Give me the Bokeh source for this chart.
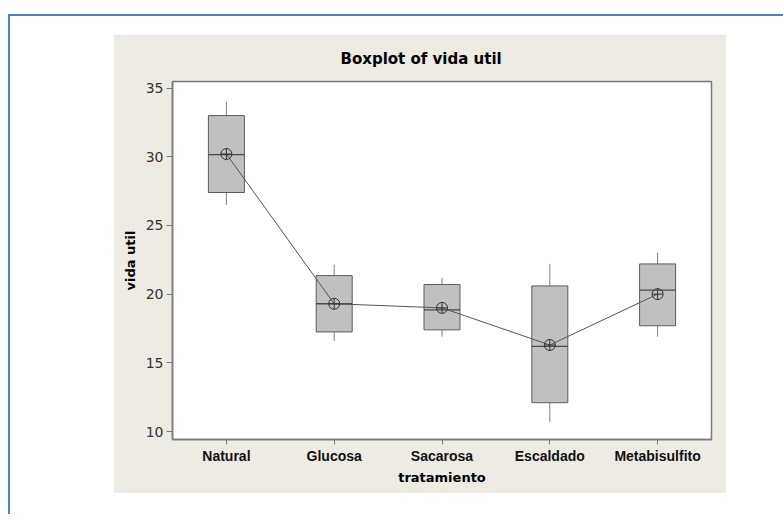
from bokeh.plotting import figure
from bokeh.models import Range1d, FixedTicker, ColumnDataSource
from bokeh.transform import dodge
from bokeh.layouts import column
from bokeh.embed import file_html
from bokeh.resources import INLINE

# ---- data ----
categories = ["Natural", "Glucosa", "Sacarosa", "Escaldado", "Metabisulfito"]
whisker_low = [26.5, 16.6, 16.9, 10.7, 16.9]
q1 = [27.4, 17.25, 17.4, 12.1, 17.7]
median = [30.15, 19.3, 18.85, 16.2, 20.3]
q3 = [33.0, 21.35, 20.7, 20.6, 22.2]
whisker_high = [34.0, 22.15, 21.2, 22.2, 23.0]
means = [30.2, 19.3, 19.0, 16.3, 20.0]
y_ticks = [10, 15, 20, 25, 30, 35]

src = ColumnDataSource(dict(cat=categories, lo=whisker_low, q1=q1, med=median,
                            q3=q3, hi=whisker_high, mean=means))

BEIGE = "#EEEBE3"
p = figure(x_range=categories, y_range=Range1d(9.42, 35.48),
           width=613, height=459, output_backend="svg", toolbar_location=None,
           min_border_left=59, min_border_right=15, min_border_top=47, min_border_bottom=54,
           background_fill_color="white", border_fill_color=BEIGE,
           title="Boxplot of vida util")
p.margin = (18, 0, 0, 103)

p.title.text_font = "DejaVu Sans"
p.title.text_font_size = "15px"
p.title.text_font_style = "bold"
p.title.text_color = "black"
p.title.align = "left"
p.title.offset = 168
p.title.standoff = 27

p.outline_line_color = "#7a7a7a"
p.outline_line_width = 1.5
p.xgrid.visible = False
p.ygrid.visible = False

box_w = 0.334
# whiskers
p.segment(x0="cat", y0="q3", x1="cat", y1="hi", source=src, line_color="#808080", line_width=1)
p.segment(x0="cat", y0="q1", x1="cat", y1="lo", source=src, line_color="#808080", line_width=1)
# boxes
p.vbar(x="cat", bottom="q1", top="q3", width=box_w, source=src,
       fill_color="#C0C0C0", line_color="#5c5c5c", line_width=1)
# medians
p.segment(x0=dodge("cat", -box_w / 2, range=p.x_range), y0="med",
          x1=dodge("cat", box_w / 2, range=p.x_range), y1="med",
          source=src, line_color="#4a4a4a", line_width=1.3)
# mean connect line and symbols
p.line(x="cat", y="mean", source=src, line_color="#555555", line_width=1)
p.scatter(x="cat", y="mean", source=src, marker="circle_cross", size=11,
          fill_alpha=0, line_color="#333333", line_width=1)

# y axis
ya = p.yaxis[0]
ya.ticker = FixedTicker(ticks=y_ticks)
ya.axis_label = "vida util"
ya.axis_label_text_font = "DejaVu Sans"
ya.axis_label_text_font_size = "13px"
ya.axis_label_text_font_style = "bold"
ya.axis_label_text_color = "black"
ya.axis_label_standoff = 5
ya.major_label_text_font = "DejaVu Sans"
ya.major_label_text_font_size = "14px"
ya.major_label_text_color = "#333333"
ya.major_label_standoff = 3
ya.major_tick_out = 6
ya.major_tick_in = 0
ya.minor_tick_out = 0
ya.minor_tick_in = 0
ya.major_tick_line_color = "#7a7a7a"
ya.axis_line_color = "#7a7a7a"
ya.axis_line_width = 1.5

# x axis
xa = p.xaxis[0]
xa.axis_label = "tratamiento"
xa.axis_label_text_font = "DejaVu Sans"
xa.axis_label_text_font_size = "13px"
xa.axis_label_text_font_style = "bold"
xa.axis_label_text_color = "black"
xa.axis_label_standoff = 3
xa.major_label_text_font = "Liberation Sans"
xa.major_label_text_font_size = "14px"
xa.major_label_text_font_style = "bold"
xa.major_label_text_color = "#111111"
xa.major_label_standoff = 3
xa.major_tick_out = 5
xa.major_tick_in = 0
xa.major_tick_line_color = "#7a7a7a"
xa.axis_line_color = "#7a7a7a"
xa.axis_line_width = 1.5

layout = column(p, width=780, height=500, margin=(14, 0, 0, 8),
                styles={"border-top": "2px solid #4F81BD",
                        "border-left": "2px solid #4F81BD",
                        "overflow": "hidden"})

open("out.html", "w").write(file_html(layout, INLINE))
